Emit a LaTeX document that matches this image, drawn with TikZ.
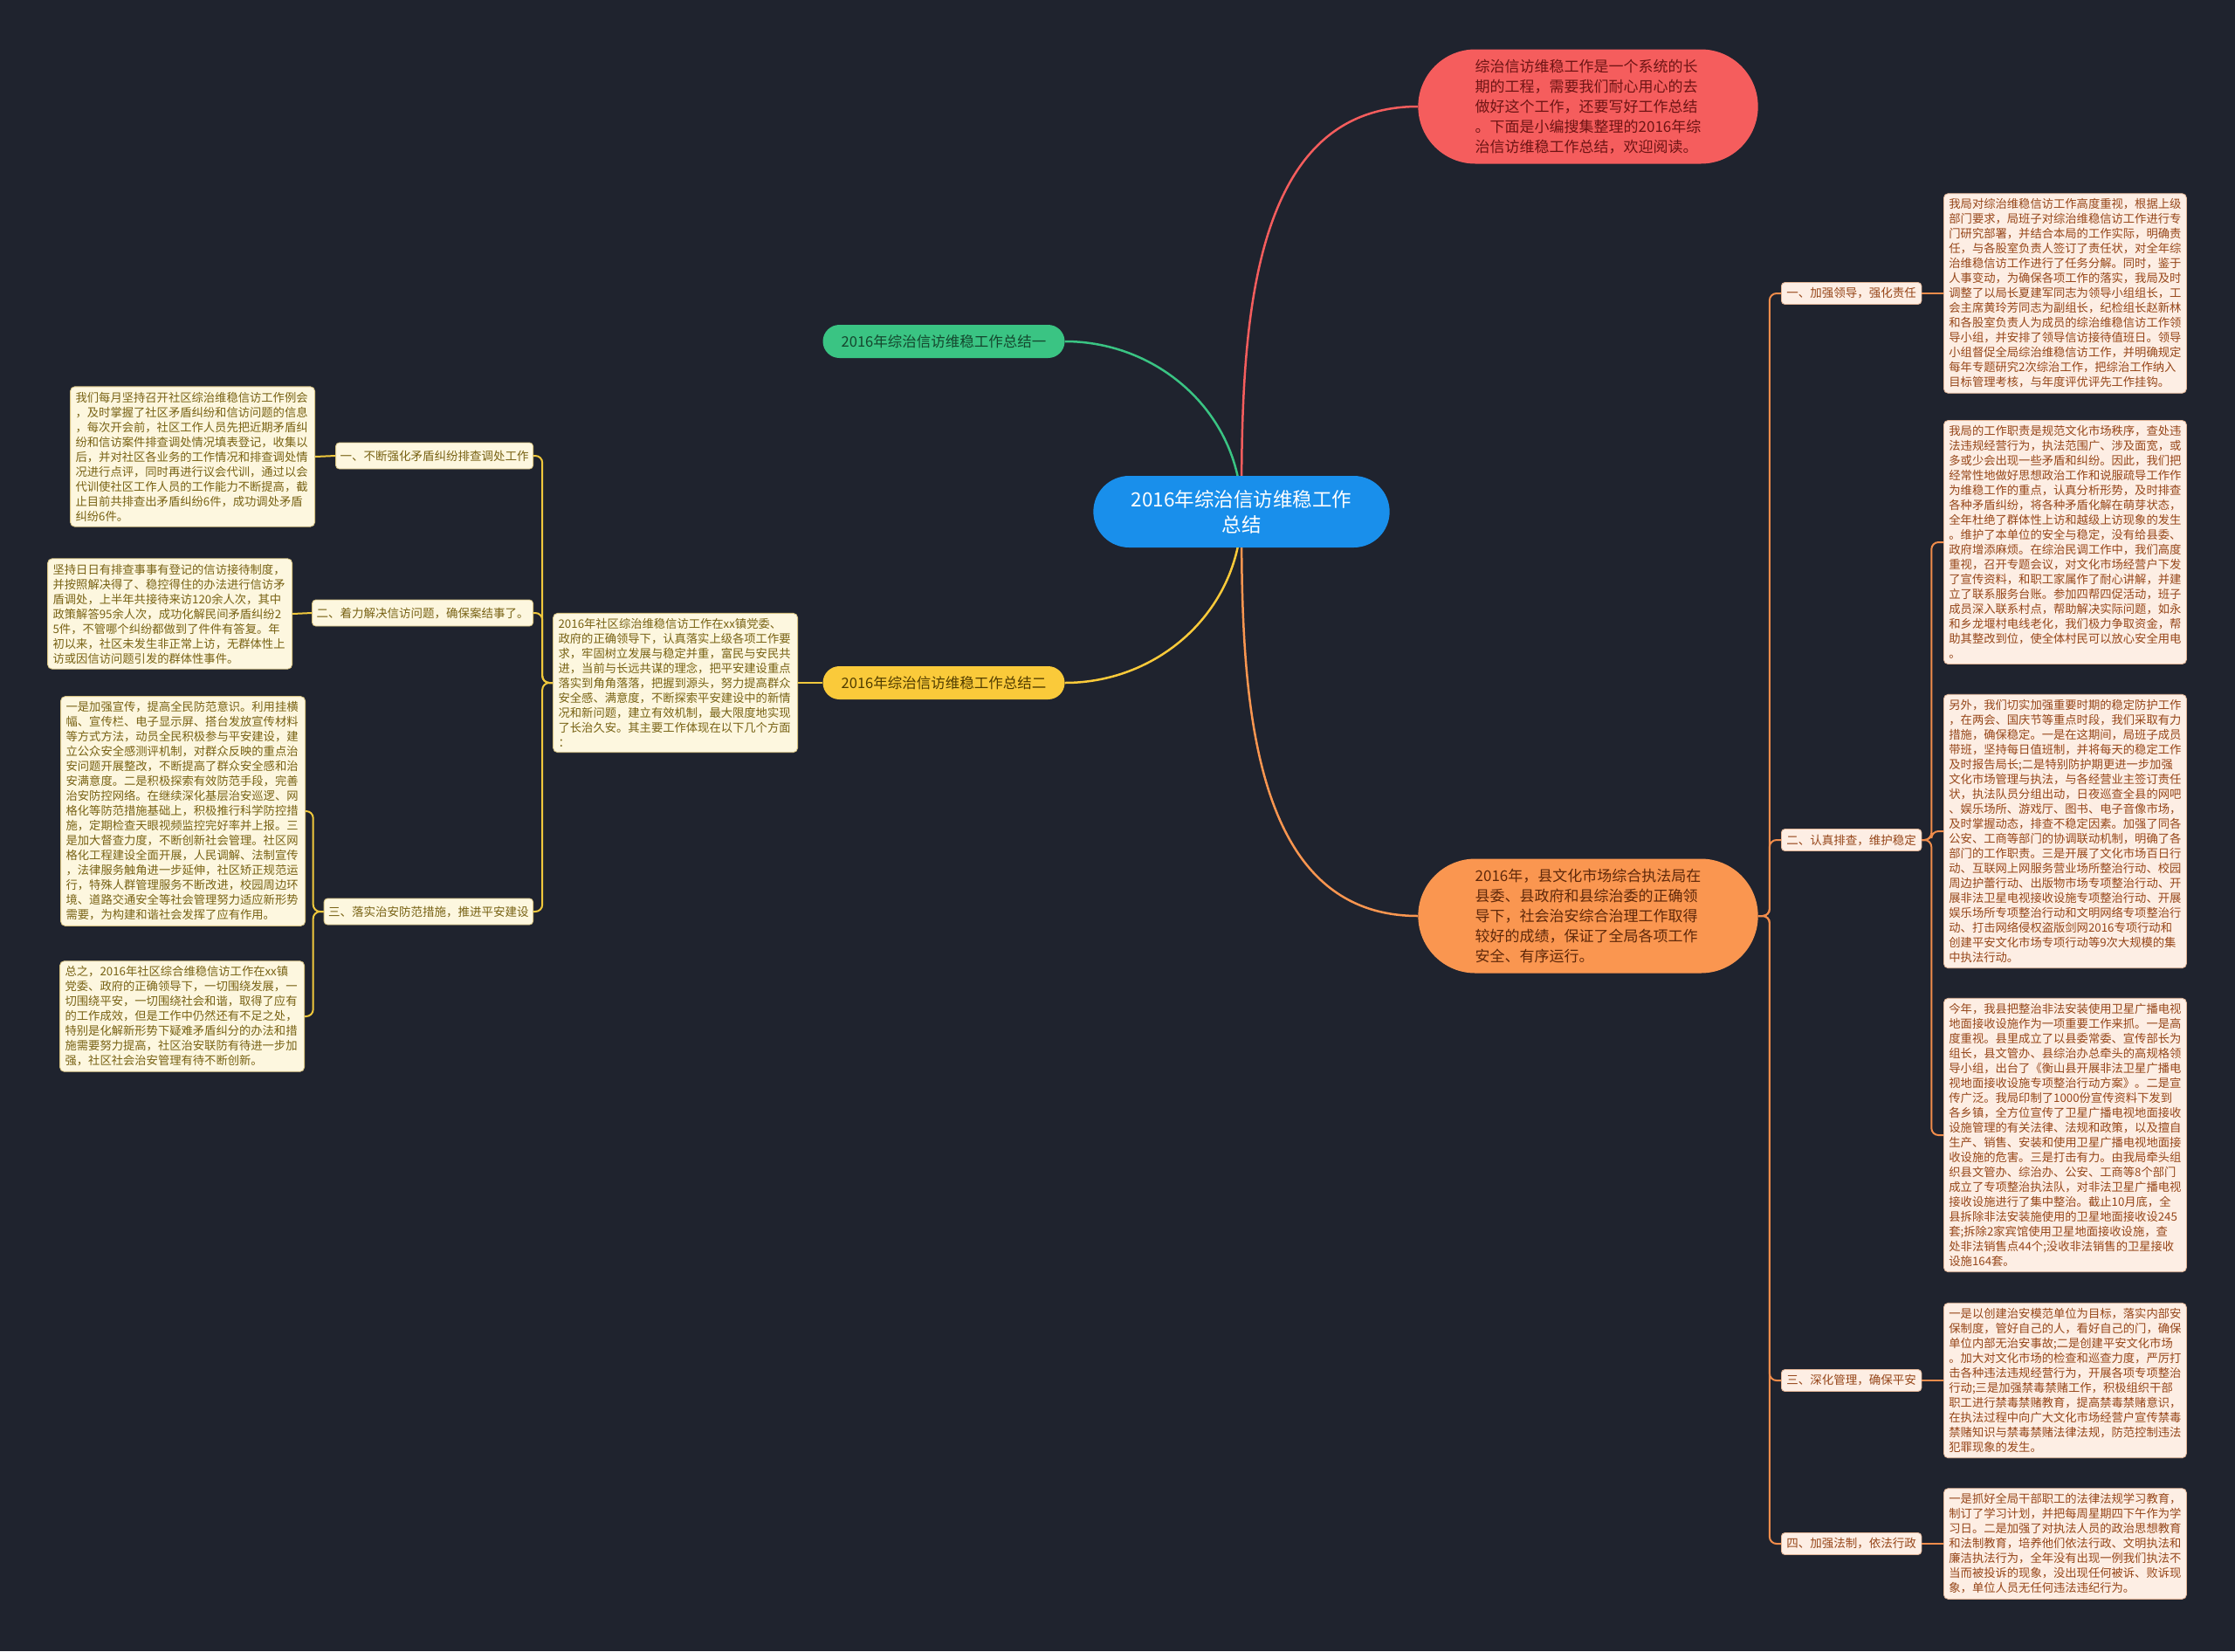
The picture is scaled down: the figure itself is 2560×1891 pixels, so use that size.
\documentclass[tikz,border=0pt]{standalone}
\usepackage{fontspec}
\newfontfamily\cjk{Noto Sans CJK SC}
\usepackage{tikz}
\usetikzlibrary{shapes.misc,backgrounds}

\definecolor{bgdark}{RGB}{31,35,46}
\definecolor{hubfill}{RGB}{25,143,235}
\definecolor{redfill}{RGB}{245,93,93}
\definecolor{redtext}{RGB}{110,20,20}
\definecolor{greenfill}{RGB}{58,196,131}
\definecolor{greentext}{RGB}{20,70,45}
\definecolor{yellowfill}{RGB}{250,202,58}
\definecolor{yellowtext}{RGB}{80,60,0}
\definecolor{orangefill}{RGB}{250,150,80}
\definecolor{orangetext}{RGB}{95,40,10}
\definecolor{lleaffill}{RGB}{253,247,223}
\definecolor{lleafline}{RGB}{215,195,130}
\definecolor{ltext}{RGB}{120,98,20}
\definecolor{lline}{RGB}{240,200,60}
\definecolor{rleaffill}{RGB}{253,238,228}
\definecolor{rleafline}{RGB}{225,180,150}
\definecolor{rtext}{RGB}{150,70,25}
\definecolor{rline}{RGB}{240,140,75}

\begin{document}
\begin{tikzpicture}[x=1pt, y=-1pt,
    hub/.style={rounded rectangle, fill=hubfill, text=white, minimum width=346pt, minimum height=82pt, align=center, font=\cjk\fontsize{22.5}{29}\selectfont},
    topic/.style={rounded rectangle, fill=#1, minimum width=396pt, minimum height=131pt, align=left, font=\cjk\fontsize{17}{23}\selectfont},
    sub/.style={rounded rectangle, fill=#1, minimum width=281pt, minimum height=38pt, inner xsep=2pt, font=\cjk\fontsize{16.5}{19}\selectfont},
    lleaf/.style={draw=lleafline, fill=lleaffill, text=ltext, line width=0.8pt, rounded corners=5pt, inner xsep=6pt, inner ysep=6pt, text width=268pt, align=left, font=\cjk\fontsize{13.3}{17}\selectfont},
    rleaf/.style={draw=rleafline, fill=rleaffill, text=rtext, line width=0.8pt, rounded corners=5pt, inner xsep=6pt, inner ysep=6pt, text width=266pt, align=left, font=\cjk\fontsize{13.3}{17}\selectfont},
    ltag/.style={draw=lleafline, fill=lleaffill, text=ltext, line width=0.8pt, rounded corners=4pt, inner xsep=5pt, minimum height=30pt, font=\cjk\fontsize{13.5}{16}\selectfont},
    rtag/.style={draw=rleafline, fill=rleaffill, text=rtext, line width=0.8pt, rounded corners=4pt, inner xsep=6pt, minimum height=25pt, font=\cjk\fontsize{13.5}{16}\selectfont},
    stem/.style={draw=#1, line width=2.5pt},
    twig/.style={draw=#1, line width=2pt, rounded corners=8pt}
]
\useasboundingbox (0,0) rectangle (2560,1891);
\begin{pgfonlayer}{background}
\fill[bgdark] (0,0) rectangle (2560,1891);
\end{pgfonlayer}

\node[hub] (C) at (1422,586) {2016年综治信访维稳工作\\总结};
\node[topic=redfill, text=redtext] (R0) at (1819,122) {综治信访维稳工作是一个系统的长\\
期的工程，需要我们耐心用心的去\\
做好这个工作，还要写好工作总结\\
。下面是小编搜集整理的2016年综\\
治信访维稳工作总结，欢迎阅读。};
\node[sub=greenfill, text=greentext] (G) at (1081,391) {2016年综治信访维稳工作总结一};
\node[sub=yellowfill, text=yellowtext] (Y) at (1081,782) {2016年综治信访维稳工作总结二};
\node[topic=orangefill, text=orangetext] (O) at (1819,1049) {2016年，县文化市场综合执法局在\\
县委、县政府和县综治委的正确领\\
导下，社会治安综合治理工作取得\\
较好的成绩，保证了全局各项工作\\
安全、有序运行。};

\node[lleaf, anchor=east] (M) at (914,782) {2016年社区综治维稳信访工作在xx镇党委、\\
政府的正确领导下，认真落实上级各项工作要\\
求，牢固树立发展与稳定并重，富民与安民共\\
进，当前与长远共谋的理念，把平安建设重点\\
落实到角角落落，把握到源头，努力提高群众\\
安全感、满意度，不断探索平安建设中的新情\\
况和新问题，建立有效机制，最大限度地实现\\
了长治久安。其主要工作体现在以下几个方面\\
：};
\node[ltag, anchor=east] (l1) at (611,522) {一、不断强化矛盾纠纷排查调处工作};
\node[ltag, anchor=east] (l2) at (611,702) {二、着力解决信访问题，确保案结事了。};
\node[ltag, anchor=east] (l3) at (611,1044) {三、落实治安防范措施，推进平安建设};
\node[lleaf, anchor=east] (b1) at (361,523) {我们每月坚持召开社区综治维稳信访工作例会\\
，及时掌握了社区矛盾纠纷和信访问题的信息\\
，每次开会前，社区工作人员先把近期矛盾纠\\
纷和信访案件排查调处情况填表登记，收集以\\
后，并对社区各业务的工作情况和排查调处情\\
况进行点评，同时再进行议会代训，通过以会\\
代训使社区工作人员的工作能力不断提高，截\\
止目前共排查出矛盾纠纷6件，成功调处矛盾\\
纠纷6件。};
\node[lleaf, anchor=east] (b2) at (335,703) {坚持日日有排查事事有登记的信访接待制度，\\
并按照解决得了、稳控得住的办法进行信访矛\\
盾调处，上半年共接待来访120余人次，其中\\
政策解答95余人次，成功化解民间矛盾纠纷2\\
5件，不管哪个纠纷都做到了件件有答复。年\\
初以来，社区未发生非正常上访，无群体性上\\
访或因信访问题引发的群体性事件。};
\node[lleaf, anchor=east] (b3) at (350,929) {一是加强宣传，提高全民防范意识。利用挂横\\
幅、宣传栏、电子显示屏、搭台发放宣传材料\\
等方式方法，动员全民积极参与平安建设，建\\
立公众安全感测评机制，对群众反映的重点治\\
安问题开展整改，不断提高了群众安全感和治\\
安满意度。二是积极探索有效防范手段，完善\\
治安防控网络。在继续深化基层治安巡逻、网\\
格化等防范措施基础上，积极推行科学防控措\\
施，定期检查天眼视频监控完好率并上报。三\\
是加大督查力度，不断创新社会管理。社区网\\
格化工程建设全面开展，人民调解、法制宣传\\
，法律服务触角进一步延伸，社区矫正规范运\\
行，特殊人群管理服务不断改进，校园周边环\\
境、道路交通安全等社会管理努力适应新形势\\
需要，为构建和谐社会发挥了应有作用。};
\node[lleaf, anchor=east] (b4) at (349,1164) {总之，2016年社区综合维稳信访工作在xx镇\\
党委、政府的正确领导下，一切围绕发展，一\\
切围绕平安，一切围绕社会和谐，取得了应有\\
的工作成效，但是工作中仍然还有不足之处，\\
特别是化解新形势下疑难矛盾纠分的办法和措\\
施需要努力提高，社区治安联防有待进一步加\\
强，社区社会治安管理有待不断创新。};

\node[rtag, anchor=west] (r1) at (2040,336) {一、加强领导，强化责任};
\node[rtag, anchor=west] (r2) at (2040,962) {二、认真排查，维护稳定};
\node[rtag, anchor=west] (r3) at (2040,1581) {三、深化管理，确保平安};
\node[rtag, anchor=west] (r4) at (2040,1768) {四、加强法制，依法行政};
\node[rleaf, anchor=west] (t1) at (2226,336) {我局对综治维稳信访工作高度重视，根据上级\\
部门要求，局班子对综治维稳信访工作进行专\\
门研究部署，并结合本局的工作实际，明确责\\
任，与各股室负责人签订了责任状，对全年综\\
治维稳信访工作进行了任务分解。同时，鉴于\\
人事变动，为确保各项工作的落实，我局及时\\
调整了以局长夏建军同志为领导小组组长，工\\
会主席黄玲芳同志为副组长，纪检组长赵新林\\
和各股室负责人为成员的综治维稳信访工作领\\
导小组，并安排了领导信访接待值班日。领导\\
小组督促全局综治维稳信访工作，并明确规定\\
每年专题研究2次综治工作，把综治工作纳入\\
目标管理考核，与年度评优评先工作挂钩。};
\node[rleaf, anchor=west] (t2) at (2226,621) {我局的工作职责是规范文化市场秩序，查处违\\
法违规经营行为，执法范围广、涉及面宽，或\\
多或少会出现一些矛盾和纠纷。因此，我们把\\
经常性地做好思想政治工作和说服疏导工作作\\
为维稳工作的重点，认真分析形势，及时排查\\
各种矛盾纠纷，将各种矛盾化解在萌芽状态，\\
全年杜绝了群体性上访和越级上访现象的发生\\
。维护了本单位的安全与稳定，没有给县委、\\
政府增添麻烦。在综治民调工作中，我们高度\\
重视，召开专题会议，对文化市场经营户下发\\
了宣传资料，和职工家属作了耐心讲解，并建\\
立了联系服务台账。参加四帮四促活动，班子\\
成员深入联系村点，帮助解决实际问题，如永\\
和乡龙堰村电线老化，我们极力争取资金，帮\\
助其整改到位，使全体村民可以放心安全用电\\
。};
\node[rleaf, anchor=west] (t3) at (2226,952) {另外，我们切实加强重要时期的稳定防护工作\\
，在两会、国庆节等重点时段，我们采取有力\\
措施，确保稳定。一是在这期间，局班子成员\\
带班，坚持每日值班制，并将每天的稳定工作\\
及时报告局长;二是特别防护期更进一步加强\\
文化市场管理与执法，与各经营业主签订责任\\
状，执法队员分组出动，日夜巡查全县的网吧\\
、娱乐场所、游戏厅、图书、电子音像市场，\\
及时掌握动态，排查不稳定因素。加强了同各\\
公安、工商等部门的协调联动机制，明确了各\\
部门的工作职责。三是开展了文化市场百日行\\
动、互联网上网服务营业场所整治行动、校园\\
周边护蕾行动、出版物市场专项整治行动、开\\
展非法卫星电视接收设施专项整治行动、开展\\
娱乐场所专项整治行动和文明网络专项整治行\\
动、打击网络侵权盗版剑网2016专项行动和\\
创建平安文化市场专项行动等9次大规模的集\\
中执法行动。};
\node[rleaf, anchor=west] (t4) at (2226,1300) {今年，我县把整治非法安装使用卫星广播电视\\
地面接收设施作为一项重要工作来抓。一是高\\
度重视。县里成立了以县委常委、宣传部长为\\
组长，县文管办、县综治办总牵头的高规格领\\
导小组，出台了《衡山县开展非法卫星广播电\\
视地面接收设施专项整治行动方案》。二是宣\\
传广泛。我局印制了1000份宣传资料下发到\\
各乡镇，全方位宣传了卫星广播电视地面接收\\
设施管理的有关法律、法规和政策，以及擅自\\
生产、销售、安装和使用卫星广播电视地面接\\
收设施的危害。三是打击有力。由我局牵头组\\
织县文管办、综治办、公安、工商等8个部门\\
成立了专项整治执法队，对非法卫星广播电视\\
接收设施进行了集中整治。截止10月底，全\\
县拆除非法安装施使用的卫星地面接收设245\\
套;拆除2家宾馆使用卫星地面接收设施，查\\
处非法销售点44个;没收非法销售的卫星接收\\
设施164套。};
\node[rleaf, anchor=west] (t5) at (2226,1581) {一是以创建治安模范单位为目标，落实内部安\\
保制度，管好自己的人，看好自己的门，确保\\
单位内部无治安事故;二是创建平安文化市场\\
。加大对文化市场的检查和巡查力度，严厉打\\
击各种违法违规经营行为，开展各项专项整治\\
行动;三是加强禁毒禁赌工作，积极组织干部\\
职工进行禁毒禁赌教育，提高禁毒禁赌意识，\\
在执法过程中向广大文化市场经营户宣传禁毒\\
禁赌知识与禁毒禁赌法律法规，防范控制违法\\
犯罪现象的发生。};
\node[rleaf, anchor=west] (t6) at (2226,1768) {一是抓好全局干部职工的法律法规学习教育，\\
制订了学习计划，并把每周星期四下午作为学\\
习日。二是加强了对执法人员的政治思想教育\\
和法制教育，培养他们依法行政、文明执法和\\
廉洁执法行为，全年没有出现一例我们执法不\\
当而被投诉的现象，没出现任何被诉、败诉现\\
象，单位人员无任何违法违纪行为。};

\begin{pgfonlayer}{background}
\draw[stem=redfill] (C.center) to[out=90, in=180] (R0.west);
\draw[stem=greenfill] (C.center) to[out=90, in=0] (G.east);
\draw[stem=yellowfill] (C.center) to[out=-90, in=0] (Y.east);
\draw[stem=orangefill] (C.center) to[out=-90, in=180] (O.west);

\draw[twig=lline] (Y.west) -- (M.east);
\draw[twig=lline] (M.west) -- ++(-12,0) |- (l1.east);
\draw[twig=lline] (M.west) -- ++(-12,0) |- (l2.east);
\draw[twig=lline] (M.west) -- ++(-12,0) |- (l3.east);
\draw[twig=lline] (l1.west) -- (b1.east);
\draw[twig=lline] (l2.west) -- (b2.east);
\draw[twig=lline] (l3.west) -- ++(-12,0) |- (b3.east);
\draw[twig=lline] (l3.west) -- ++(-12,0) |- (b4.east);

\draw[twig=rline] (O.east) -- ++(13,0) |- (r1.west);
\draw[twig=rline] (O.east) -- ++(13,0) |- (r2.west);
\draw[twig=rline] (O.east) -- ++(13,0) |- (r3.west);
\draw[twig=rline] (O.east) -- ++(13,0) |- (r4.west);
\draw[twig=rline] (r1.east) -- (t1.west);
\draw[twig=rline] (r2.east) -- ++(11,0) |- (t2.west);
\draw[twig=rline] (r2.east) -- ++(11,0) |- (t3.west);
\draw[twig=rline] (r2.east) -- ++(11,0) |- (t4.west);
\draw[twig=rline] (r3.east) -- (t5.west);
\draw[twig=rline] (r4.east) -- (t6.west);
\end{pgfonlayer}
\end{tikzpicture}
\end{document}
